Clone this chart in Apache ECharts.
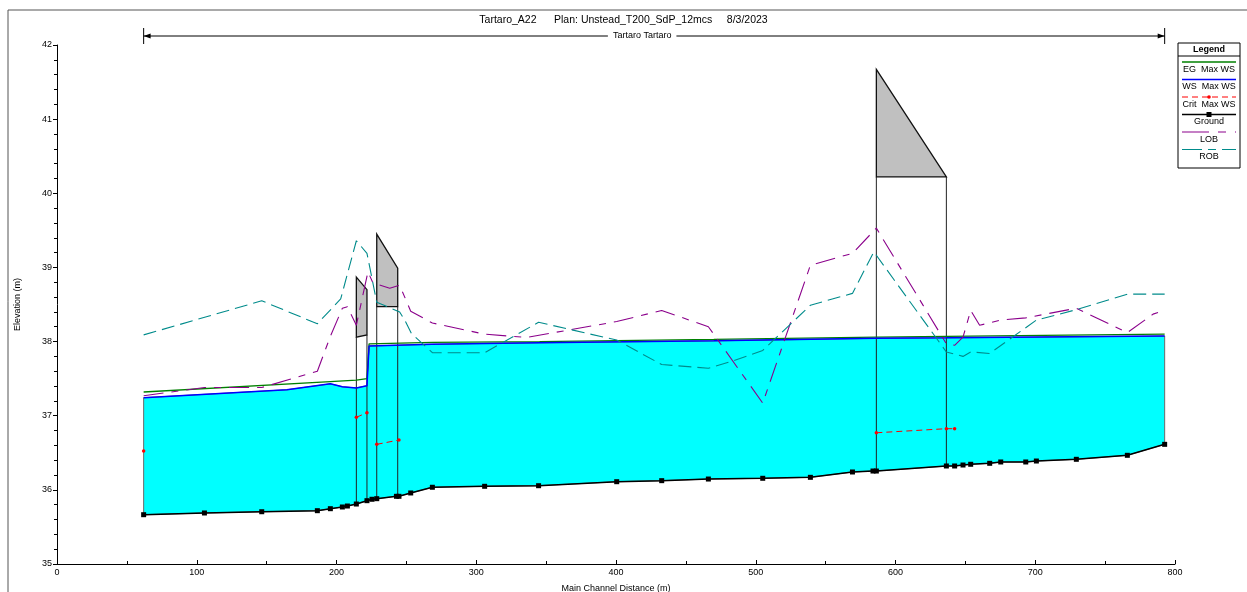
<!DOCTYPE html>
<html>
<head>
<meta charset="utf-8">
<script src="https://cdn.jsdelivr.net/npm/echarts@6/dist/echarts.min.js"></script>
<style>
html,body{margin:0;padding:0;background:#fff;overflow:hidden;}
#chart{width:1247px;height:592px;}
</style>
</head>
<body>
<div id="chart"></div>
<script>
// ---- Data (m, elevation m) ----
const groundX = [62.0,105.5,146.5,186.3,195.6,204.2,207.8,214.2,221.8,225.4,228.8,242.9,244.7,253.1,268.6,306.0,344.6,400.5,432.7,466.1,505.0,539.1,569.2,583.9,586.3,636.4,642.3,648.3,653.8,667.4,675.3,693.2,700.8,729.4,765.9,792.6];
const groundZ = [35.665,35.688,35.705,35.719,35.746,35.769,35.782,35.809,35.854,35.873,35.881,35.913,35.913,35.958,36.035,36.048,36.056,36.11,36.124,36.146,36.156,36.169,36.241,36.254,36.254,36.322,36.322,36.335,36.345,36.358,36.376,36.376,36.389,36.412,36.466,36.614];

const wsX = [62.0,164.5,195.6,204.2,214.2,221.8,223.3,268.6,345.4,470.0,586.3,636.4,792.6];
const wsZ = [37.243,37.35,37.43,37.39,37.375,37.405,37.94,37.965,37.985,38.01,38.044,38.05,38.075];

const egX = [62.0,195.6,214.2,221.8,223.3,268.6,345.4,470.0,586.3,636.4,792.6];
const egZ = [37.32,37.46,37.48,37.50,37.97,37.99,38.00,38.03,38.06,38.07,38.10];

const critX = [62.0,null,214.2,221.8,null,228.8,244.7,null,586.3,636.4,642.3];
const critZ = [36.524,null,36.979,37.04,null,36.614,36.672,null,36.77,36.825,36.825];

const lobX = [62,105.5,146.5,186.3,195.6,204.2,207.8,214.2,222.5,226.1,238.1,245.2,253.1,268.6,306.0,336.0,400.5,432.7,466.1,505.0,539.1,569.2,586.3,636.4,642.3,648.3,653.8,660.2,675.3,693.2,729.4,765.9,784.3,792.6];
const lobZ = [37.27,37.38,37.38,37.60,38.07,38.45,38.47,38.22,38.94,38.79,38.72,38.76,38.41,38.25,38.10,38.055,38.27,38.42,38.20,37.17,39.03,39.19,39.53,37.97,37.95,38.06,38.42,38.22,38.29,38.32,38.45,38.12,38.37,38.42];

const robX = [62.0,146.5,186.3,203.0,214.2,221.8,228.8,245.2,248.8,253.6,268.6,306.0,344.6,400.5,432.7,466.1,483.7,505.0,539.1,569.2,584.5,636.4,648.3,653.8,667.4,700.8,729.4,765.9,792.6];
const robZ = [38.09,38.55,38.24,38.575,39.36,39.19,38.53,38.40,38.29,38.11,37.85,37.85,38.26,38.02,37.69,37.64,37.74,37.88,38.49,38.65,39.21,37.86,37.80,37.86,37.84,38.29,38.43,38.64,38.64];

// bridges / structures
const structUpX = [214.2, 228.8, 586.3];
const structDnX = [221.8, 243.8, 636.4];
const deckTopUp = [38.87, 39.45, 41.67];
const deckTopDn = [38.70, 38.99, 40.22];
const deckLowUp = [38.06, 38.47, 40.22];
const deckLowDn = [38.09, 38.47, 40.22];
const structGroundUp = [35.809, 35.881, 36.254];
const structGroundDn = [35.854, 35.913, 36.322];

const titleText = 'Tartaro_A22      Plan: Unstead_T200_SdP_12mcs     8/3/2023';
const reachName = 'Tartaro Tartaro';
const legendItems = ['EG  Max WS','WS  Max WS','Crit  Max WS','Ground','LOB','ROB'];

// ---- Build ----
const FONT = 'Liberation Sans, Arial, sans-serif';
const zip = (xs, ys) => xs.map((x, i) => (x === null || ys[i] === null) ? ['-', '-'] : [x, ys[i]]);

const C = {eg:'#008000', ws:'#0000FF', crit:'#FF0000', ground:'#000000', lob:'#8B008B', rob:'#008B8B', water:'#00FFFF', deck:'#C0C0C0'};
const lobDash = [20, 8, 7, 8];
const robDash = [13, 6];
const critDash = [6, 4];

const structData = structUpX.map((x, i) => [x, structDnX[i], deckTopUp[i], deckTopDn[i], deckLowUp[i], deckLowDn[i], structGroundUp[i], structGroundDn[i]]);

const chart = echarts.init(document.getElementById('chart'), null, {renderer: 'canvas', width: 1247, height: 592});

const option = {
  animation: false,
  backgroundColor: '#ffffff',
  textStyle: {fontFamily: FONT},
  title: {
    text: titleText, left: 'center', top: 10,
    textStyle: {fontSize: 10.5, fontWeight: 'normal', fontFamily: FONT, color: '#000'}
  },
  grid: {left: 57, width: 1118, top: 45, height: 519, containLabel: false, outerBoundsMode: 'none'},
  xAxis: {
    type: 'value', min: 0, max: 800, interval: 100,
    name: 'Main Channel Distance (m)', nameLocation: 'middle', nameGap: 20,
    nameTextStyle: {fontSize: 9, color: '#000', fontFamily: FONT},
    axisLine: {show: true, onZero: false, lineStyle: {color: '#000', width: 1}},
    axisTick: {show: true, inside: true, length: 4, lineStyle: {color: '#000'}},
    minorTick: {show: true, splitNumber: 2, length: 3, lineStyle: {color: '#000'}},
    splitLine: {show: false},
    axisLabel: {fontSize: 9, color: '#000', margin: 4, fontFamily: FONT}
  },
  yAxis: {
    type: 'value', min: 35, max: 42, interval: 1,
    name: 'Elevation (m)', nameLocation: 'middle', nameGap: 35, nameRotate: 90,
    nameTextStyle: {fontSize: 9, color: '#000', fontFamily: FONT},
    axisLine: {show: true, onZero: false, lineStyle: {color: '#000', width: 1}},
    axisTick: {show: true, inside: false, length: 4, lineStyle: {color: '#000'}},
    minorTick: {show: true, splitNumber: 5, length: 3, lineStyle: {color: '#000'}},
    splitLine: {show: false},
    axisLabel: {fontSize: 9, color: '#000', margin: 5, fontFamily: FONT}
  },
  series: [
    {
      type: 'custom', name: 'water', z: 1, silent: true,
      data: [[groundX[0], groundZ[0]]],
      renderItem: function (params, api) {
        const pts = [];
        for (let i = 0; i < wsX.length; i++) pts.push(api.coord([wsX[i], wsZ[i]]));
        for (let i = groundX.length - 1; i >= 0; i--) pts.push(api.coord([groundX[i], groundZ[i]]));
        return {type: 'polygon', shape: {points: pts}, style: {fill: C.water, stroke: '#6a6a6a', lineWidth: 1}};
      }
    },
    {
      type: 'custom', name: 'structures', z: 2, silent: true,
      data: structData,
      encode: {x: [0, 1], y: [2, 3, 4, 5, 6, 7]},
      renderItem: function (params, api) {
        const x1 = api.value(0), x2 = api.value(1);
        const tU = api.coord([x1, api.value(2)]);
        const tD = api.coord([x2, api.value(3)]);
        const lU = api.coord([x1, api.value(4)]);
        const lD = api.coord([x2, api.value(5)]);
        const gU = api.coord([x1, api.value(6)]);
        const gD = api.coord([x2, api.value(7)]);
        return {
          type: 'group',
          children: [
            {type: 'line', shape: {x1: lU[0], y1: lU[1], x2: gU[0], y2: gU[1]}, style: {stroke: '#222', lineWidth: 1}},
            {type: 'line', shape: {x1: lD[0], y1: lD[1], x2: gD[0], y2: gD[1]}, style: {stroke: '#222', lineWidth: 1}},
            {type: 'polygon', shape: {points: [tU, tD, lD, lU]}, style: {fill: C.deck, stroke: '#111', lineWidth: 1.3}}
          ]
        };
      }
    },
    {type: 'line', name: 'EG', z: 3, data: zip(egX, egZ), symbol: 'none', lineStyle: {color: C.eg, width: 1.3}},
    {type: 'line', name: 'WS', z: 4, data: zip(wsX, wsZ), symbol: 'none', lineStyle: {color: C.ws, width: 1.5}},
    {type: 'line', name: 'LOB', z: 5, data: zip(lobX, lobZ), symbol: 'none', lineStyle: {color: C.lob, width: 1.1, type: lobDash}},
    {type: 'line', name: 'ROB', z: 5, data: zip(robX, robZ), symbol: 'none', lineStyle: {color: C.rob, width: 1.1, type: robDash}},
    {type: 'line', name: 'Crit', z: 6, data: zip(critX, critZ), connectNulls: false, showAllSymbol: true,
      symbol: 'circle', symbolSize: 3.5, itemStyle: {color: C.crit}, lineStyle: {color: C.crit, width: 1, type: critDash}},
    {type: 'line', name: 'Ground', z: 7, data: zip(groundX, groundZ), showAllSymbol: true,
      symbol: 'rect', symbolSize: 5, itemStyle: {color: C.ground}, lineStyle: {color: C.ground, width: 1.5}}
  ]
};

chart.setOption(option);

// ---- graphics: frame, reach arrow, legend ----
const xa = chart.convertToPixel({xAxisIndex: 0}, groundX[0]);
const xb = chart.convertToPixel({xAxisIndex: 0}, groundX[groundX.length - 1]);
const ry = 36;
const g = [];
g.push({type: 'rect', shape: {x: 8, y: 10, width: 1400, height: 800}, style: {fill: 'none', stroke: '#555', lineWidth: 1}, silent: true, z: 0});
g.push({type: 'line', shape: {x1: xa, y1: ry, x2: xb, y2: ry}, style: {stroke: '#000', lineWidth: 1}});
g.push({type: 'line', shape: {x1: xa, y1: ry - 8, x2: xa, y2: ry + 8}, style: {stroke: '#000', lineWidth: 1}});
g.push({type: 'line', shape: {x1: xb, y1: ry - 8, x2: xb, y2: ry + 8}, style: {stroke: '#000', lineWidth: 1}});
g.push({type: 'polygon', shape: {points: [[xa, ry], [xa + 7, ry - 2.5], [xa + 7, ry + 2.5]]}, style: {fill: '#000'}});
g.push({type: 'polygon', shape: {points: [[xb, ry], [xb - 7, ry - 2.5], [xb - 7, ry + 2.5]]}, style: {fill: '#000'}});
g.push({type: 'text', x: (xa + xb) / 2 - 12, y: ry, style: {text: reachName, fontSize: 9, fontFamily: FONT, fill: '#000', align: 'center', verticalAlign: 'middle', backgroundColor: '#fff', padding: [0, 5]}});

// legend box
const LX = 1178, LY = 43, LW = 62, LH = 125;
g.push({type: 'rect', shape: {x: LX, y: LY, width: LW, height: LH}, style: {fill: '#fff', stroke: '#000', lineWidth: 1}, z: 10});
g.push({type: 'text', x: LX + LW / 2, y: 49.5, style: {text: 'Legend', fontSize: 9, fontWeight: 'bold', fontFamily: FONT, fill: '#000', align: 'center', verticalAlign: 'middle'}, z: 11});
g.push({type: 'line', shape: {x1: LX, y1: 56, x2: LX + LW, y2: 56}, style: {stroke: '#000', lineWidth: 1}, z: 11});
const legStyles = [
  {c: C.eg, dash: null, w: 1.3},
  {c: C.ws, dash: null, w: 1.5},
  {c: C.crit, dash: critDash, w: 1, marker: 'dot'},
  {c: C.ground, dash: null, w: 1.5, marker: 'sq'},
  {c: C.lob, dash: [27, 9, 8, 9], w: 1.1},
  {c: C.rob, dash: [20, 6, 8, 6], w: 1.1}
];
legendItems.forEach((name, i) => {
  const ly = 62 + i * 17.5;
  const ty = ly + 7.5;
  const s = legStyles[i];
  g.push({type: 'line', shape: {x1: LX + 4, y1: ly, x2: LX + LW - 4, y2: ly}, style: {stroke: s.c, lineWidth: s.w, lineDash: s.dash || null}, z: 11});
  if (s.marker === 'dot') g.push({type: 'circle', shape: {cx: LX + LW / 2, cy: ly, r: 1.8}, style: {fill: s.c}, z: 12});
  if (s.marker === 'sq') g.push({type: 'rect', shape: {x: LX + LW / 2 - 2.5, y: ly - 2.5, width: 5, height: 5}, style: {fill: s.c}, z: 12});
  g.push({type: 'text', x: LX + LW / 2, y: ty, style: {text: name, fontSize: 9, fontFamily: FONT, fill: '#000', align: 'center', verticalAlign: 'middle'}, z: 11});
});

chart.setOption({graphic: {elements: g}});
</script>
</body>
</html>
